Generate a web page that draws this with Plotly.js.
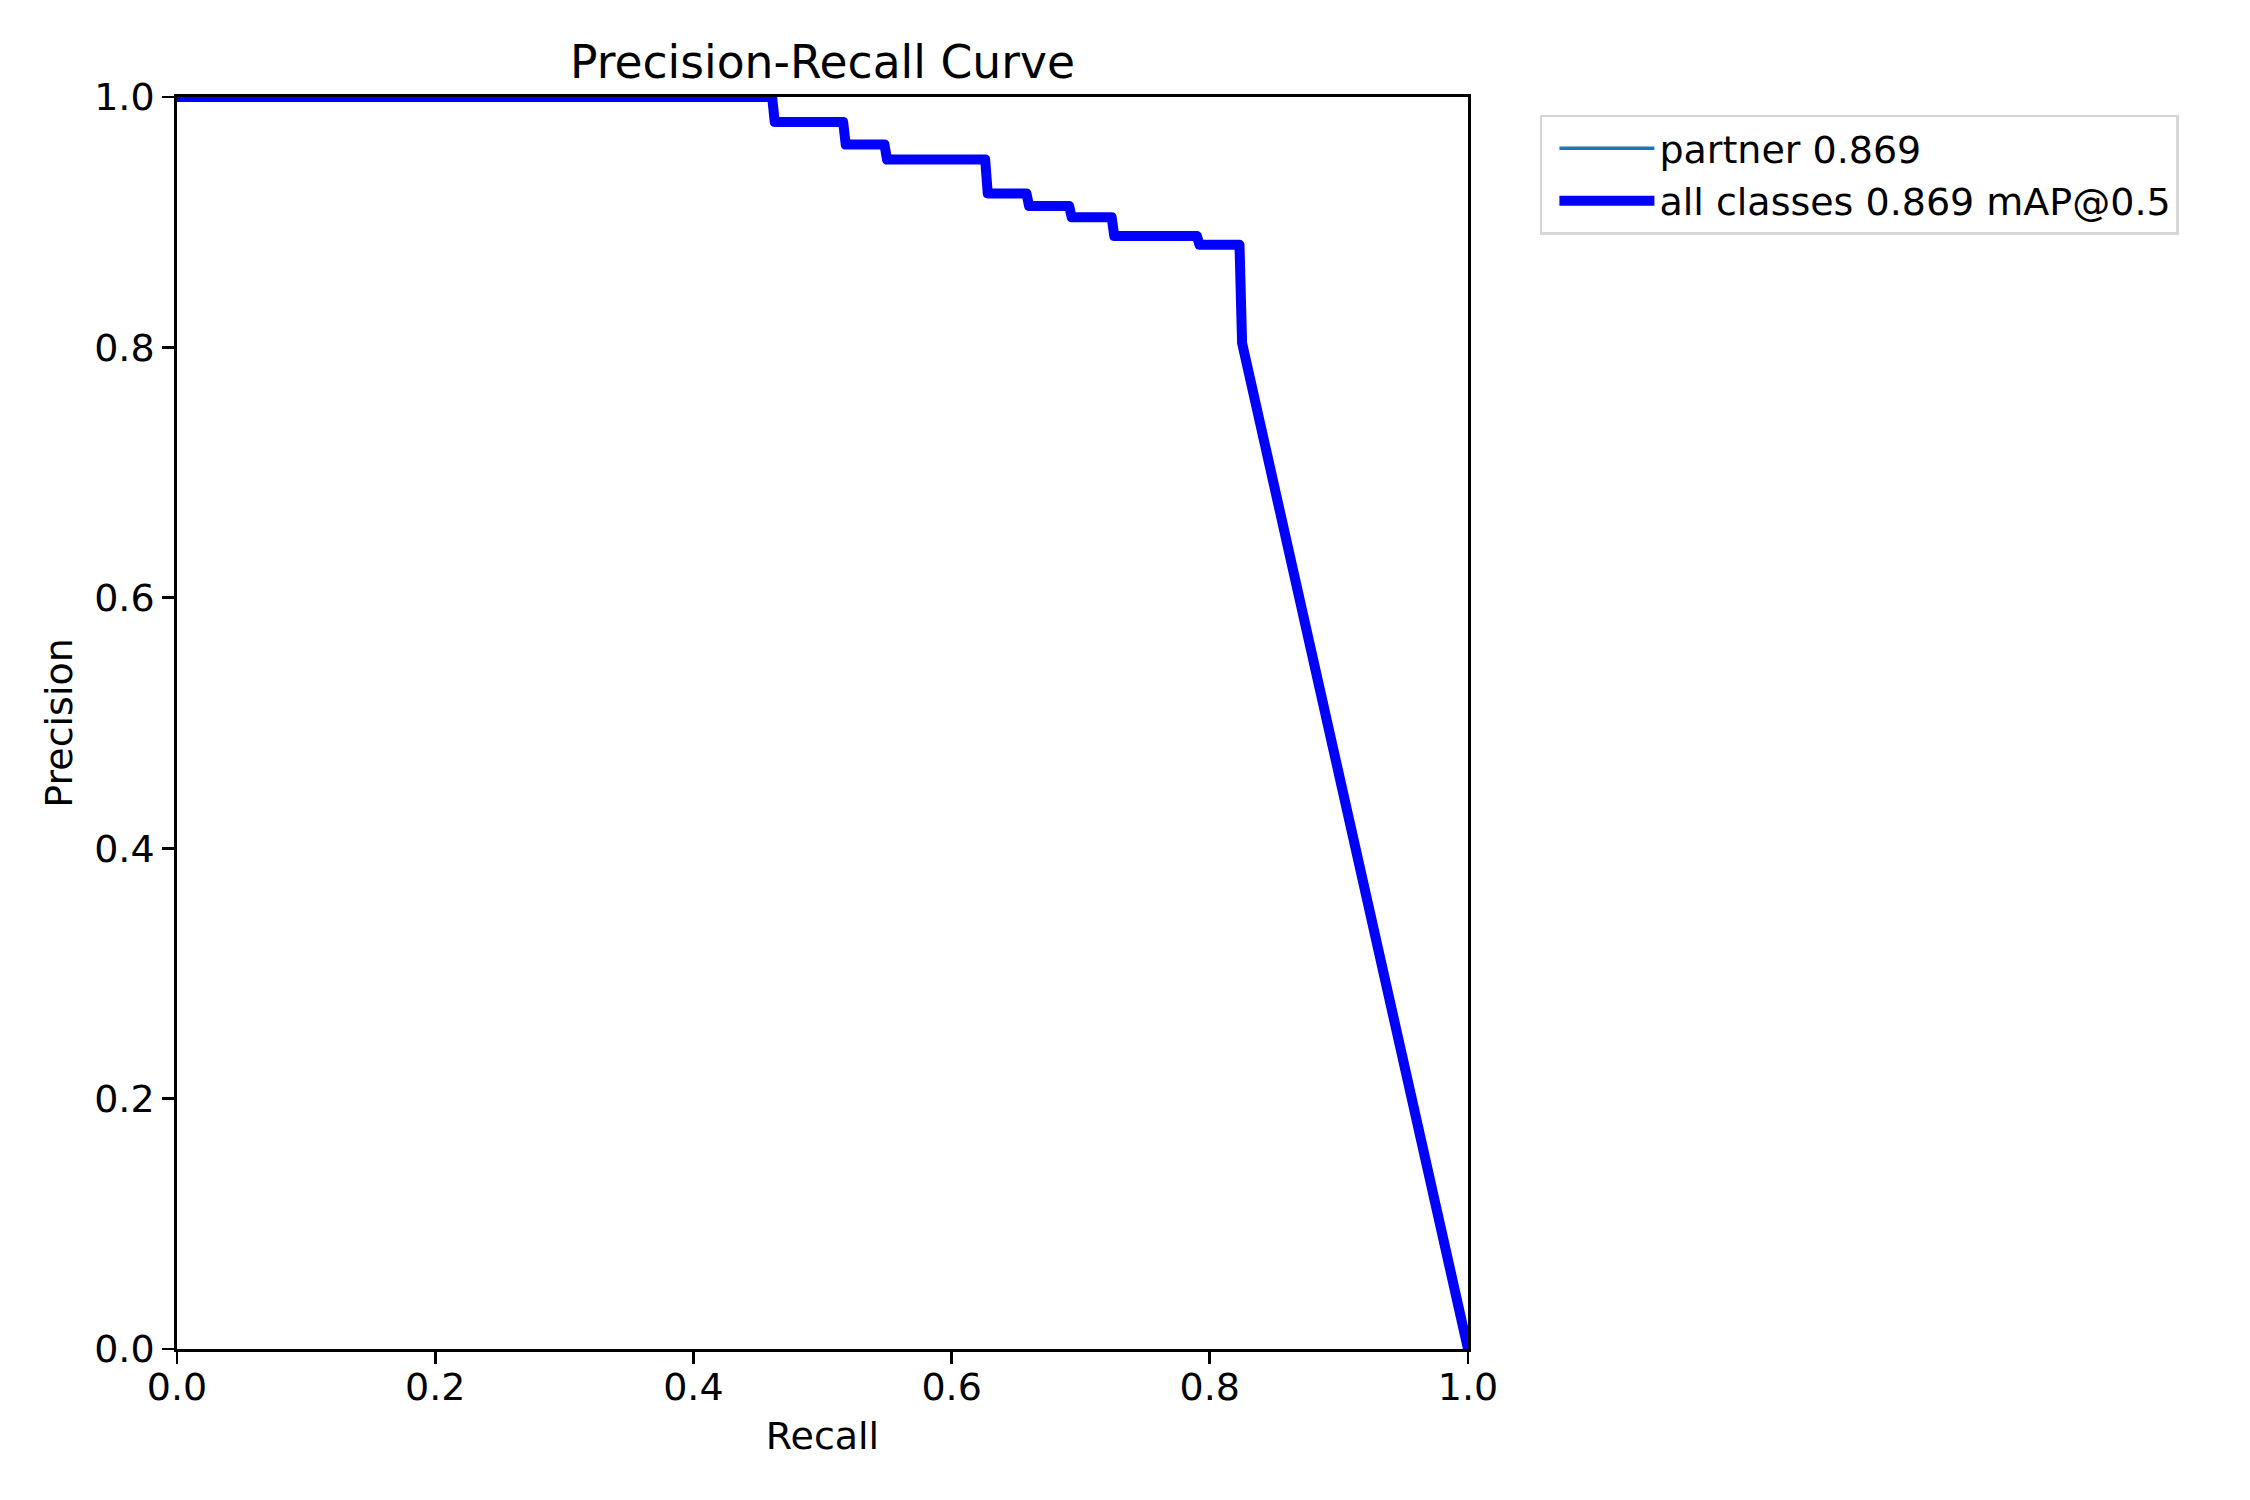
<!DOCTYPE html>
<html>
<head>
<meta charset="utf-8">
<script src="https://cdn.plot.ly/plotly-3.0.1.min.js"></script>
<style>
html,body{margin:0;padding:0;background:#fff;}
#chart{width:2250px;height:1500px;}
#chart path.js-line{stroke-linejoin:round;}
</style>
</head>
<body>
<div id="chart"></div>
<script>
// Data
const recall = [0.000, 0.461, 0.463, 0.516, 0.518, 0.548, 0.550, 0.626, 0.628, 0.658, 0.660, 0.691, 0.693, 0.724, 0.726, 0.790, 0.792, 0.823, 0.825, 1.000];
const precision = [1.000, 1.000, 0.980, 0.980, 0.962, 0.962, 0.950, 0.950, 0.923, 0.923, 0.913, 0.913, 0.904, 0.904, 0.889, 0.889, 0.882, 0.882, 0.8035, 0.000];
const classNames = ["partner"];
const classAP = [0.869];
const allMAP = 0.869;
const tickValues = [0, 0.2, 0.4, 0.6, 0.8, 1.0];
const tickLabels = ["0.0", "0.2", "0.4", "0.6", "0.8", "1.0"];

const FONT = "DejaVu Sans, Liberation Sans, sans-serif";
const FS = 38;

const traces = [
  {
    x: recall, y: precision, type: "scatter", mode: "lines",
    name: classNames[0] + " " + classAP[0].toFixed(3),
    line: {color: "#1f77b4", width: 3.5},
    legendgroup: "a"
  },
  {
    x: recall, y: precision, type: "scatter", mode: "lines",
    name: "all classes " + allMAP.toFixed(3) + " mAP@0.5",
    line: {color: "#0000ff", width: 10},
    legendgroup: "b"
  }
];

const axisCommon = {
  range: [0, 1],
  tickmode: "array",
  tickvals: tickValues,
  ticktext: tickLabels,
  ticks: "outside",
  ticklen: 12,
  tickwidth: 2.8,
  tickcolor: "#000",
  showline: true,
  linecolor: "#000",
  linewidth: 2.8,
  mirror: true,
  showgrid: false,
  zeroline: false,
  tickfont: {family: FONT, size: FS, color: "#000"},
  fixedrange: true
};

const layout = {
  width: 2250, height: 1500,
  paper_bgcolor: "#fff", plot_bgcolor: "#fff",
  font: {family: FONT, size: FS, color: "#000"},
  margin: {l: 177, r: 782, t: 97, b: 151, pad: 0},
  title: {
    text: "Precision-Recall Curve",
    font: {family: FONT, size: 45.6, color: "#000"},
    x: 0.5, xref: "paper", xanchor: "center",
    y: 1, yref: "paper", yanchor: "bottom",
    pad: {b: 19}
  },
  xaxis: Object.assign({}, axisCommon, {
    ticklabelstandoff: -9,
    title: {text: "Recall", font: {family: FONT, size: FS, color: "#000"}, standoff: 14}
  }),
  yaxis: Object.assign({}, axisCommon, {
    title: {text: "Precision", font: {family: FONT, size: FS, color: "#000"}, standoff: 10}
  }),
  showlegend: true,
  legend: {
    x: 1.0557, y: 0.986, xref: "paper", yref: "paper",
    xanchor: "left", yanchor: "top",
    bordercolor: "#d6d6d6", borderwidth: 2.5, bgcolor: "#fff",
    font: {family: FONT, size: FS, color: "#000"},
    itemwidth: 95,
    indentation: 12,
    tracegroupgap: 20,
    traceorder: "normal"
  }
};

Plotly.newPlot("chart", traces, layout, {staticPlot: true, displayModeBar: false});
</script>
</body>
</html>
